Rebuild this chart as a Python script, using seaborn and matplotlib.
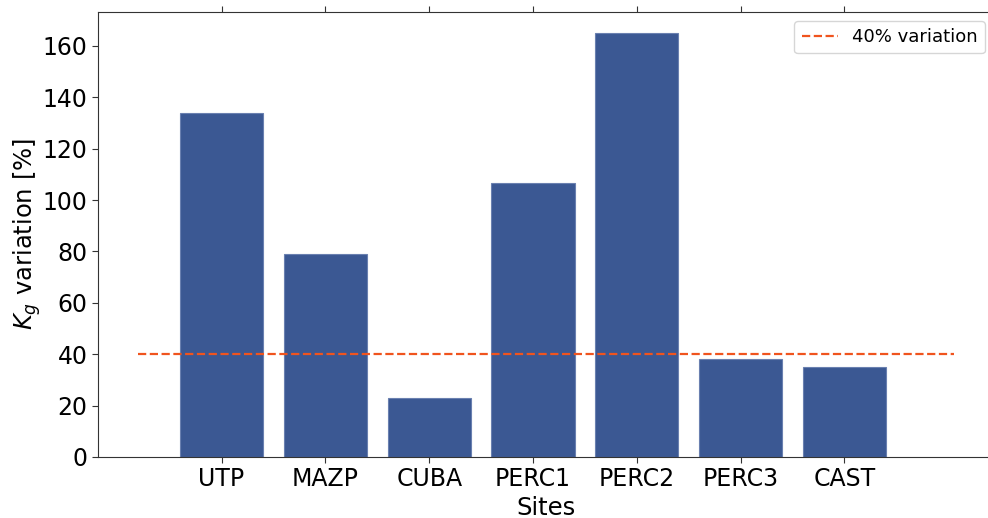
import matplotlib
matplotlib.use("Agg")
import matplotlib.pyplot as plt
import seaborn as sns
import pandas as pd

sites = ["UTP", "MAZP", "CUBA", "PERC1", "PERC2", "PERC3", "CAST"]
kg_variation = [133.9, 79.0, 23.0, 106.7, 165.0, 38.1, 35.0]
threshold = 40
threshold_label = "40% variation"

df = pd.DataFrame({"Sites": sites, "Kg": kg_variation})

fig = plt.figure(figsize=(9.88, 5.18), dpi=100)
ax = fig.add_axes([98 / 988, (518 - 457) / 518, (994 - 98) / 988, (457 - 12) / 518])

sns.barplot(data=df, x="Sites", y="Kg", color="#3b5893", saturation=1, width=0.8,
            edgecolor="#6a80b0", linewidth=0.8, ax=ax)
ax.hlines(threshold, -0.8, 7.05, colors="#f0541e", linestyles="--", linewidth=1.6,
          label=threshold_label)

ax.set_xlim(-1.19, 7.44)
ax.set_ylim(0, 173.2)
ax.set_xlabel("Sites", fontsize=17.5, labelpad=3)
ax.set_ylabel(r"$K_g$ variation [%]", fontsize=17.5, labelpad=0)
ax.tick_params(axis="both", labelsize=17, length=4, color="#333333")
ax.tick_params(axis="x", top=True, labeltop=False)
ax.set_yticks([0, 20, 40, 60, 80, 100, 120, 140, 160])
ax.spines["right"].set_visible(False)
for s in ["left", "bottom", "top"]:
    ax.spines[s].set_color("#333333")
ax.legend(loc="upper right", fontsize=13, frameon=True)

fig.savefig("out.png", dpi=100)
